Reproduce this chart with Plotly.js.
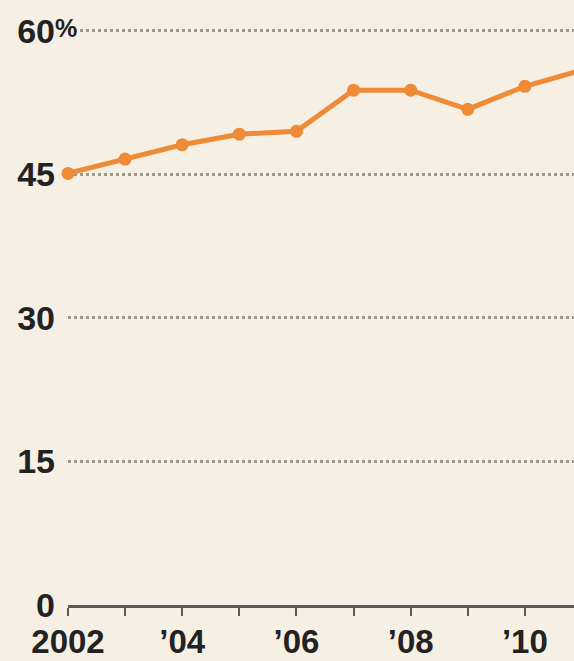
<!DOCTYPE html>
<html>
<head>
<meta charset="utf-8">
<script src="https://cdn.plot.ly/plotly-3.0.1.min.js"></script>
<style>
html,body{margin:0;padding:0;background:#f6f0e4;}
#chart{width:574px;height:661px;}
</style>
</head>
<body>
<div id="chart"></div>
<script>
const years = [2002, 2003, 2004, 2005, 2006, 2007, 2008, 2009, 2010, 2011];
const values = [45.1, 46.6, 48.1, 49.2, 49.5, 53.8, 53.8, 51.8, 54.2, 55.9];
const xTickVals = [2002, 2003, 2004, 2005, 2006, 2007, 2008, 2009, 2010, 2011];
const xTickText = ["2002", "", "\u201904", "", "\u201906", "", "\u201908", "", "\u201910", ""];
const yTickVals = [0, 15, 30, 45, 60];
const yTickText = ["0", "15", "30", "45", "60"];

const font = "Liberation Sans, Arial, sans-serif";

const trace = {
  x: years,
  y: values,
  type: "scatter",
  mode: "lines+markers",
  line: {color: "#ef8a36", width: 5},
  marker: {color: "#ef8a36", size: 13},
  cliponaxis: false,
  hoverinfo: "skip"
};

const layout = {
  width: 574,
  height: 661,
  paper_bgcolor: "#f6f0e4",
  plot_bgcolor: "#f6f0e4",
  margin: {l: 68, r: 0, t: 27, b: 56},
  showlegend: false,
  xaxis: {
    range: [2002, 2010.86],
    tickvals: xTickVals,
    ticktext: xTickText,
    ticks: "outside",
    ticklen: 8,
    tickwidth: 2,
    tickcolor: "#5a5a5a",
    showline: true,
    linecolor: "#5a5a5a",
    linewidth: 3,
    showgrid: false,
    zeroline: false,
    tickfont: {family: font, size: 33, color: "#222222", weight: "bold"},
    ticklabelstandoff: -3
  },
  yaxis: {
    range: [0, 60.4],
    tickvals: yTickVals,
    ticktext: yTickText,
    ticks: "",
    showline: false,
    zeroline: false,
    showgrid: true,
    gridcolor: "#9c988f",
    gridwidth: 3,
    griddash: "dot",
    tickfont: {family: font, size: 34, color: "#222222", weight: "bold"},
    ticklabelstandoff: 12
  },
  annotations: [{
    text: "%",
    xref: "paper", yref: "y",
    x: -0.03, y: 60.3,
    xanchor: "left", yanchor: "middle",
    showarrow: false,
    font: {family: font, size: 25, color: "#222222", weight: "bold"}
  }]
};

Plotly.newPlot("chart", [trace], layout, {displayModeBar: false, staticPlot: true});
</script>
</body>
</html>
